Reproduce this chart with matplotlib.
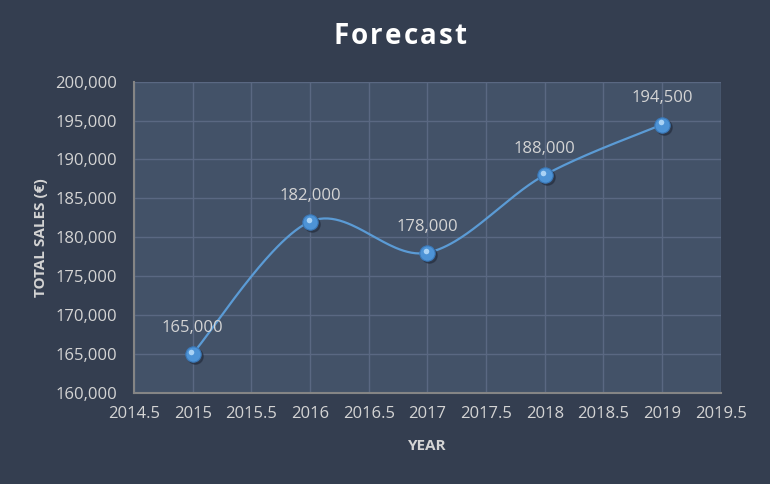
import numpy as np
import matplotlib
matplotlib.use("Agg")
import matplotlib.pyplot as plt
from matplotlib.ticker import FuncFormatter, MultipleLocator

years = [2015, 2016, 2017, 2018, 2019]
sales = [165000, 182000, 178000, 188000, 194500]
labels = ["165,000", "182,000", "178,000", "188,000", "194,500"]

BG = "#343e50"
PLOT_BG = "#435268"
GRID = "#5a6882"
TXT = "#d4d4d4"
LINE = "#5b9bd5"

plt.rcParams['font.family'] = ['Open Sans', 'DejaVu Sans']

fig = plt.figure(figsize=(7.7, 4.84), dpi=100, facecolor=BG)
ax = fig.add_axes([0.174, 0.189, 0.762, 0.642])
ax.set_facecolor(PLOT_BG)

# smooth curve (Excel-like Catmull-Rom bezier)
x = np.array(years, float)
y = np.array(sales, float)
px = np.concatenate([[x[0]], x, [x[-1]]])
py = np.concatenate([[y[0]], y, [y[-1]]])
cx, cy = [], []
t = np.linspace(0, 1, 60)
for i in range(1, len(px) - 2):
    p0 = np.array([px[i], py[i]])
    p3 = np.array([px[i + 1], py[i + 1]])
    c1 = p0 + (np.array([px[i + 1], py[i + 1]]) - np.array([px[i - 1], py[i - 1]])) / 6
    c2 = p3 - (np.array([px[i + 2], py[i + 2]]) - np.array([px[i], py[i]])) / 6
    pts = ((1 - t)[:, None] ** 3) * p0 + 3 * ((1 - t) ** 2 * t)[:, None] * c1 + 3 * ((1 - t) * t ** 2)[:, None] * c2 + (t ** 3)[:, None] * p3
    cx.extend(pts[:, 0]); cy.extend(pts[:, 1])
ax.plot(cx, cy, color=LINE, lw=1.6, zorder=3)
ax.plot(years, sales, 'o', ms=11, color="#202838", alpha=0.5, zorder=3,
        transform=ax.transData + matplotlib.transforms.ScaledTranslation(1.5/72, -1.5/72, fig.dpi_scale_trans))
ax.plot(years, sales, 'o', ms=11, mfc="#4d93d6", mec="#3a78b8", mew=0.8, zorder=4)
ax.plot(years, sales, 'o', ms=4, mfc="#a9d2f5", mec="none", zorder=5,
        transform=ax.transData + matplotlib.transforms.ScaledTranslation(-1.0/72, 1.5/72, fig.dpi_scale_trans))

for xi, yi, lb in zip(years, sales, labels):
    ax.annotate(lb, (xi, yi), xytext=(0, 13), textcoords='offset points',
                ha='center', va='bottom', color=TXT, fontsize=12)

ax.set_xlim(2014.5, 2019.5)
ax.set_ylim(160000, 200000)
ax.xaxis.set_major_locator(MultipleLocator(0.5))
ax.yaxis.set_major_locator(MultipleLocator(5000))
ax.xaxis.set_major_formatter(FuncFormatter(lambda v, p: f"{v:g}"))
ax.yaxis.set_major_formatter(FuncFormatter(lambda v, p: f"{v:,.0f}"))
ax.grid(True, color=GRID, lw=1.0)
ax.set_axisbelow(True)
for s in ['top', 'right']:
    ax.spines[s].set_visible(False)
for s in ['left', 'bottom']:
    ax.spines[s].set_color("#858585")
    ax.spines[s].set_linewidth(1.5)
ax.tick_params(length=0, colors=TXT, labelsize=12)
ax.tick_params(axis='y', pad=12)
ax.tick_params(axis='x', pad=10)

ax.set_xlabel("YEAR", color=TXT, fontsize=11, fontweight='bold', labelpad=12)
ax.set_ylabel("TOTAL SALES (€)", color=TXT, fontsize=11, fontweight='bold', labelpad=5)

# title with slight letter spacing, placed character by character
title = "Forecast"
fig.canvas.draw()
r = fig.canvas.get_renderer()
chars = [fig.text(0, 0, c, color='white', fontsize=20, fontweight='bold', va='center') for c in title]
widths = [c.get_window_extent(r).width for c in chars]
spacing = 2.0
total = sum(widths) + spacing * (len(chars) - 1)
xpos = 400 - total / 2
for c, w in zip(chars, widths):
    c.set_position((xpos / 770, 1 - 36 / 484))
    xpos += w + spacing

fig.savefig("out.png", dpi=100, facecolor=BG)
